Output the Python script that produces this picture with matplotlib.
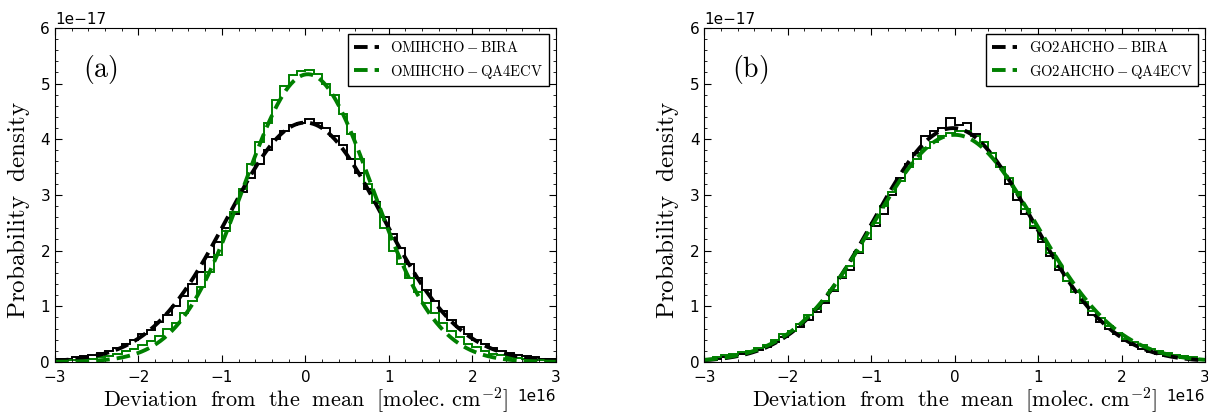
import matplotlib
matplotlib.use('Agg')
import matplotlib.pyplot as plt
import numpy as np

# bin edges in units of 1e16 molec cm-2, densities in units of 1e-17
edges = np.round(np.arange(-3.0, 3.01, 0.1), 2)

omi_bira = [0.05, 0.06, 0.08, 0.10, 0.13, 0.16, 0.20, 0.25, 0.32, 0.40,
            0.50, 0.58, 0.72, 0.85, 1.00, 1.18, 1.40, 1.62, 1.88, 2.15,
            2.40, 2.65, 3.05, 3.30, 3.55, 3.80, 4.00, 4.15, 4.25, 4.30,
            4.36, 4.30, 4.20, 4.05, 3.90, 3.65, 3.40, 3.10, 2.88, 2.60,
            2.30, 2.05, 1.75, 1.50, 1.30, 1.10, 0.92, 0.75, 0.62, 0.50,
            0.40, 0.32, 0.25, 0.20, 0.16, 0.12, 0.10, 0.08, 0.06, 0.05]
omi_qa4 = [0.02, 0.03, 0.04, 0.05, 0.06, 0.08, 0.11, 0.15, 0.19, 0.24,
           0.30, 0.38, 0.47, 0.60, 0.70, 0.88, 1.10, 1.35, 1.62, 1.92,
           2.35, 2.70, 3.10, 3.55, 3.95, 4.30, 4.70, 4.95, 5.15, 5.22,
           5.25, 5.18, 5.00, 4.80, 4.45, 4.10, 3.65, 3.20, 2.85, 2.40,
           2.00, 1.75, 1.50, 1.25, 1.05, 0.88, 0.70, 0.55, 0.45, 0.33,
           0.26, 0.20, 0.15, 0.12, 0.09, 0.07, 0.05, 0.04, 0.03, 0.02]
go2_bira = [0.04, 0.06, 0.08, 0.12, 0.15, 0.18, 0.22, 0.27, 0.35, 0.45,
            0.55, 0.62, 0.75, 0.90, 1.05, 1.28, 1.50, 1.65, 1.95, 2.20,
            2.45, 2.65, 3.00, 3.30, 3.55, 3.75, 4.05, 4.15, 4.20, 4.38,
            4.25, 4.30, 4.10, 3.95, 3.75, 3.50, 3.20, 2.90, 2.65, 2.40,
            2.15, 1.90, 1.65, 1.45, 1.25, 1.05, 0.85, 0.72, 0.60, 0.50,
            0.38, 0.30, 0.23, 0.18, 0.14, 0.11, 0.09, 0.07, 0.05, 0.04]
go2_qa4 = [0.06, 0.08, 0.12, 0.15, 0.17, 0.20, 0.25, 0.30, 0.40, 0.50,
           0.55, 0.68, 0.85, 0.95, 1.10, 1.30, 1.52, 1.72, 1.98, 2.22,
           2.50, 2.80, 3.05, 3.25, 3.50, 3.65, 3.85, 3.95, 4.05, 4.12,
           4.15, 4.15, 4.05, 3.95, 3.75, 3.50, 3.30, 3.05, 2.75, 2.45,
           2.20, 1.95, 1.70, 1.45, 1.25, 1.08, 0.92, 0.78, 0.65, 0.52,
           0.42, 0.35, 0.30, 0.24, 0.20, 0.16, 0.13, 0.10, 0.08, 0.06]

# gaussian fit parameters (mean, sigma) in units of 1e16
fit_omi_bira = (0.0, 0.928)
fit_omi_qa4 = (0.03, 0.772)
fit_go2_bira = (-0.02, 0.95)
fit_go2_qa4 = (0.0, 0.978)

panels = [
    ('a', ['OMIHCHO-BIRA', 'OMIHCHO-QA4ECV'], [omi_bira, omi_qa4], [fit_omi_bira, fit_omi_qa4]),
    ('b', ['GO2AHCHO-BIRA', 'GO2AHCHO-QA4ECV'], [go2_bira, go2_qa4], [fit_go2_bira, fit_go2_qa4]),
]
colors = ['black', 'green']

plt.rcParams['mathtext.fontset'] = 'cm'

fig = plt.figure(figsize=(12.08, 4.16), dpi=100)
lefts = [0.0455, 0.583]

for k, (tag, names, hists, fits) in enumerate(panels):
    ax = fig.add_axes([lefts[k], 0.130, 0.4145, 0.803])
    xs = np.linspace(-3e16, 3e16, 400)
    for name, h, (mu, sig), c in zip(names, hists, fits, colors):
        mu, sig = mu * 1e16, sig * 1e16
        pdf = np.exp(-0.5 * ((xs - mu) / sig) ** 2) / (sig * np.sqrt(2 * np.pi))
        ax.plot(xs, pdf, color=c, ls='--', lw=2.8, dashes=(3.5, 1.8), label=r'$\mathrm{' + name + '}$')
        ax.stairs(np.array(h) * 1e-17, edges * 1e16, color=c, lw=1.4, baseline=None)
    ax.set_xlim(-3e16, 3e16)
    ax.set_ylim(0, 6e-17)
    ax.set_xticks(np.arange(-3, 4) * 1e16)
    ax.set_xticks(np.arange(-3, 3.01, 0.2) * 1e16, minor=True)
    ax.set_yticks(np.arange(0, 7) * 1e-17)
    ax.set_yticks(np.arange(0, 6.01, 0.2) * 1e-17, minor=True)
    ax.tick_params(which='both', direction='in', top=True, right=True, labelsize=11)
    ax.tick_params(which='major', length=5)
    ax.tick_params(which='minor', length=2.5)
    ax.tick_params(axis='x', which='major', pad=5.5)
    ax.xaxis.get_offset_text().set_fontsize(11)
    ax.yaxis.get_offset_text().set_fontsize(11)
    ax.set_xlabel(r'$\mathrm{Deviation\ \ from\ \ the\ \ mean\ \ [molec.\,cm^{-2}]}$', fontsize=16, labelpad=0)
    ax.set_ylabel(r'$\mathrm{Probability\ \ density}$', fontsize=18)
    ax.yaxis.set_label_coords(-0.046, 0.455)
    ax.text(0.056, 0.925, r'$\mathrm{(' + tag + ')}$', transform=ax.transAxes, fontsize=20, va='top')
    leg = ax.legend(loc='upper right', fontsize=10.5, fancybox=False, framealpha=1,
                    edgecolor='black', borderaxespad=0.45, handlelength=1.7)
    leg.get_frame().set_linewidth(1.0)

fig.savefig('out.png', dpi=100)
